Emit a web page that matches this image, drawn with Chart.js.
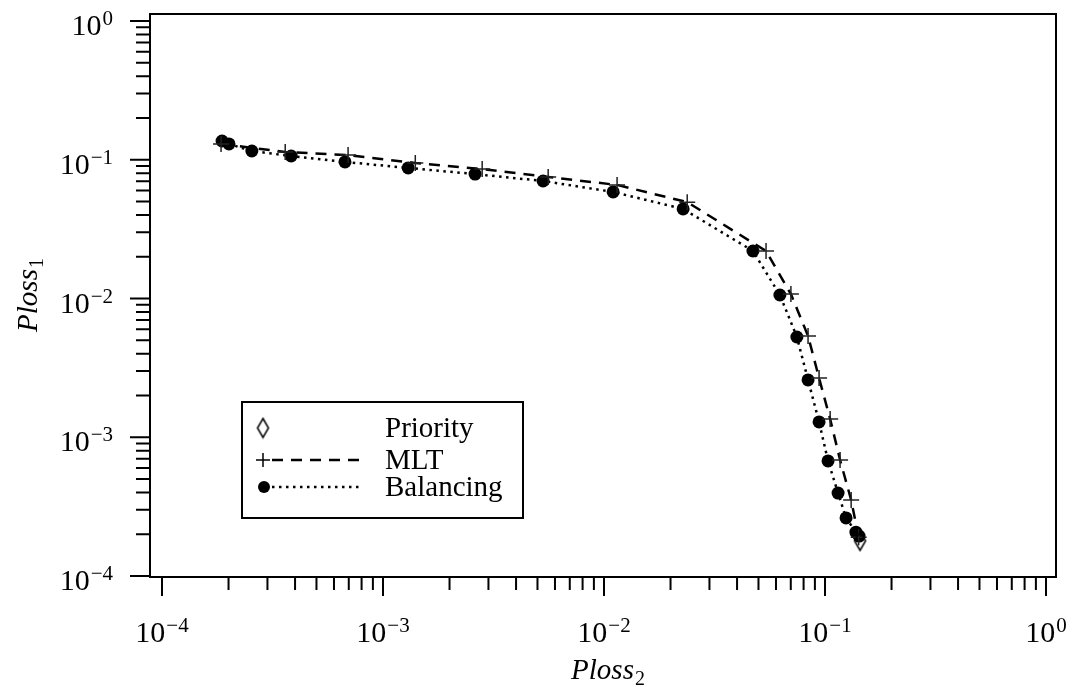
<!DOCTYPE html>
<html>
<head>
<meta charset="utf-8">
<script src="https://cdn.jsdelivr.net/npm/chart.js@4"></script>
<style>
  body { margin: 0; background: #fff; }
  #plossChart { display: block; }
</style>
</head>
<body>
<canvas id="plossChart" width="1086" height="687"></canvas>
<script>
// (Ploss2 on x, Ploss1 on y)
const priorityX = [0.144];
const priorityY = [1.79e-4];

const mltX = [1.85e-4, 3.61e-4, 6.95e-4, 1.40e-3, 2.81e-3, 5.59e-3, 0.01146, 0.0238,
              0.0541, 0.0701, 0.0838, 0.094, 0.1055, 0.117, 0.1313, 0.142];
const mltY = [0.130, 0.1137, 0.108, 0.0948, 0.0857, 0.0752, 0.0658, 0.0495,
              0.0220, 0.01076, 5.37e-3, 2.67e-3, 1.353e-3, 6.86e-4, 3.53e-4, 1.9e-4];

const balX = [1.87e-4, 2.01e-4, 2.55e-4, 3.84e-4, 6.73e-4, 1.30e-3, 2.61e-3, 5.30e-3, 0.0110, 0.0228,
              0.0472, 0.0625, 0.0746, 0.0838, 0.0940, 0.1032, 0.1146, 0.1245, 0.138, 0.1426];
const balY = [0.1365, 0.130, 0.1156, 0.1064, 0.0964, 0.0873, 0.0788, 0.0703, 0.0586, 0.0442,
              0.0220, 0.0106, 5.28e-3, 2.59e-3, 1.29e-3, 6.75e-4, 3.96e-4, 2.62e-4, 2.07e-4, 1.94e-4];

const xTickExps = [-4, -3, -2, -1, 0];
const yTickExps = [-4, -3, -2, -1, 0];
const seriesLabels = ['Priority', 'MLT', 'Balancing'];

const SERIF = '"Liberation Serif", "Times New Roman", serif';

const pairs = (xs, ys) => xs.map((x, i) => ({ x: x, y: ys[i] }));

// tall thin diamond, like the one in the original
function makeDiamond(w, h) {
    const c = document.createElement('canvas');
    c.width = w + 4; c.height = h + 4;
    const g = c.getContext('2d');
    g.strokeStyle = '#000';
    g.lineWidth = 1.5;
    g.beginPath();
    g.moveTo(c.width / 2, 2);
    g.lineTo(c.width - 2, c.height / 2);
    g.lineTo(c.width / 2, c.height - 2);
    g.lineTo(2, c.height / 2);
    g.closePath();
    g.stroke();
    return c;
}
const diamond = makeDiamond(11, 19);

function drawPow(ctx, exp, x, y, align) {
    const base = '10';
    const sup = exp < 0 ? '\u2212' + Math.abs(exp) : String(exp);
    ctx.font = '30px ' + SERIF;
    const w1 = ctx.measureText(base).width;
    ctx.font = '21px ' + SERIF;
    const w2 = ctx.measureText(sup).width;
    const total = w1 + 1 + w2;
    let x0 = x;
    if (align === 'center') x0 = x - total / 2;
    if (align === 'right') x0 = x - total;
    ctx.textAlign = 'left';
    ctx.textBaseline = 'alphabetic';
    ctx.font = '30px ' + SERIF;
    ctx.fillText(base, x0, y);
    ctx.font = '21px ' + SERIF;
    ctx.fillText(sup, x0 + w1 + 1, y - 10);
}

function drawTitle(ctx, main, sub, cx, y) {
    ctx.font = 'italic 29px ' + SERIF;
    const w1 = ctx.measureText(main).width;
    ctx.font = '20px ' + SERIF;
    const w2 = ctx.measureText(sub).width;
    const x0 = cx - (w1 + 1 + w2) / 2;
    ctx.textAlign = 'left';
    ctx.textBaseline = 'alphabetic';
    ctx.font = 'italic 29px ' + SERIF;
    ctx.fillText(main, x0, y);
    ctx.font = '20px ' + SERIF;
    ctx.fillText(sub, x0 + w1 + 1, y + 6);
}

const framePlugin = {
    id: 'frame',
    afterDraw(chart) {
        const ctx = chart.ctx;
        const a = chart.chartArea;
        const xs = chart.scales.x, ys = chart.scales.y;
        ctx.save();
        ctx.strokeStyle = '#000';
        ctx.fillStyle = '#000';
        ctx.lineWidth = 2;
        ctx.setLineDash([]);
        ctx.strokeRect(a.left, a.top, a.right - a.left, a.bottom - a.top);

        // bottom ticks, pointing out
        ctx.beginPath();
        xTickExps.forEach(e => {
            for (let m = 1; m <= 9; m++) {
                if (e === 0 && m > 1) break;
                const px = xs.getPixelForValue(m * Math.pow(10, e));
                ctx.moveTo(px, a.bottom);
                ctx.lineTo(px, a.bottom + (m === 1 ? 19 : 13));
            }
        });
        // left ticks
        yTickExps.forEach(e => {
            for (let m = 1; m <= 9; m++) {
                if (e === 0 && m > 1) break;
                const py = ys.getPixelForValue(m * Math.pow(10, e));
                ctx.moveTo(a.left, py);
                ctx.lineTo(a.left - (m === 1 ? 20 : 14), py);
            }
        });
        ctx.stroke();

        xTickExps.forEach(e => drawPow(ctx, e, xs.getPixelForValue(Math.pow(10, e)), 642, 'center'));
        yTickExps.forEach(e => drawPow(ctx, e, 113, ys.getPixelForValue(Math.pow(10, e)) + 14, 'right'));

        drawTitle(ctx, 'Ploss', '2', 608, 679);
        ctx.save();
        ctx.translate(37, 295);
        ctx.rotate(-Math.PI / 2);
        drawTitle(ctx, 'Ploss', '1', 0, 0);
        ctx.restore();

        // legend box
        const box = { left: 242, top: 402, right: 523, bottom: 518 };
        ctx.fillStyle = '#fff';
        ctx.fillRect(box.left, box.top, box.right - box.left, box.bottom - box.top);
        ctx.lineWidth = 2;
        ctx.strokeRect(box.left, box.top, box.right - box.left, box.bottom - box.top);
        ctx.fillStyle = '#000';
        const rows = [437, 469, 496];
        chart.data.datasets.forEach((ds, i) => {
            const base = rows[i];
            const cy = base - 9;
            if (ds.showLine) {
                ctx.save();
                ctx.lineWidth = ds.borderWidth;
                ctx.setLineDash(ds.borderDash || []);
                ctx.beginPath();
                ctx.moveTo(272, cy);
                ctx.lineTo(362, cy);
                ctx.stroke();
                ctx.restore();
            }
            if (ds.pointStyle === 'cross') {
                ctx.lineWidth = 1.5;
                ctx.beginPath();
                ctx.moveTo(256, cy); ctx.lineTo(270, cy);
                ctx.moveTo(263, cy - 7); ctx.lineTo(263, cy + 7);
                ctx.stroke();
            } else if (ds.pointStyle === 'circle') {
                ctx.beginPath();
                ctx.arc(264, cy, 6, 0, Math.PI * 2);
                ctx.fill();
            } else {
                ctx.drawImage(diamond, 263 - diamond.width / 2, cy - diamond.height / 2);
            }
            ctx.font = '29px ' + SERIF;
            ctx.textAlign = 'left';
            ctx.textBaseline = 'alphabetic';
            ctx.fillText(ds.label, 385, base);
        });
        ctx.restore();
    }
};

const ctx = document.getElementById('plossChart').getContext('2d');

const plossChart = new Chart(ctx, {
    type: 'scatter',
    data: {
        datasets: [
            {
                label: seriesLabels[0],
                data: pairs(priorityX, priorityY),
                showLine: false,
                pointStyle: diamond,
                pointRadius: 8,
                borderColor: '#000',
                backgroundColor: 'rgba(0,0,0,0)'
            },
            {
                label: seriesLabels[1],
                data: pairs(mltX, mltY),
                showLine: true,
                borderColor: '#000',
                borderWidth: 2.5,
                borderDash: [11, 8],
                pointStyle: 'cross',
                pointRadius: 8,
                pointBorderWidth: 1.5,
                pointBorderColor: '#222',
                backgroundColor: '#000'
            },
            {
                label: seriesLabels[2],
                data: pairs(balX, balY),
                showLine: true,
                borderColor: '#000',
                borderWidth: 2.5,
                borderDash: [2.5, 4.5],
                pointStyle: 'circle',
                pointRadius: 6.5,
                pointBorderWidth: 0,
                pointBackgroundColor: '#000',
                backgroundColor: '#000'
            }
        ]
    },
    options: {
        responsive: false,
        animation: false,
        layout: {
            padding: { left: 150, right: 30, top: 14, bottom: 110 }
        },
        scales: {
            x: {
                type: 'logarithmic',
                display: false,
                min: Math.pow(10, -4.0543),
                max: Math.pow(10, 0.0452)
            },
            y: {
                type: 'logarithmic',
                display: false,
                min: Math.pow(10, -4.0072),
                max: Math.pow(10, 0.0505)
            }
        },
        plugins: {
            legend: { display: false },
            tooltip: { enabled: false }
        }
    },
    plugins: [framePlugin]
});
</script>
</body>
</html>
